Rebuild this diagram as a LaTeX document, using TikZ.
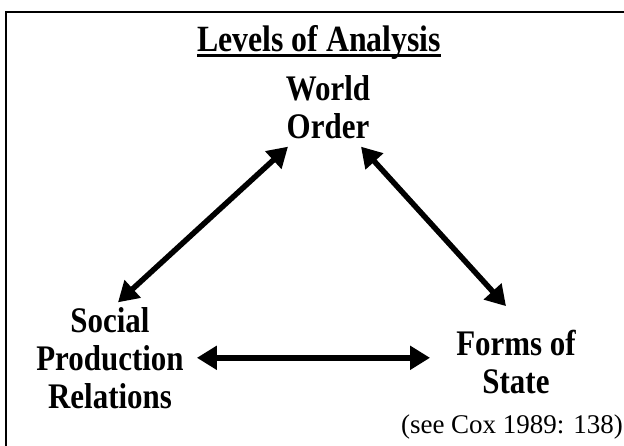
\documentclass[tikz,border=0pt]{standalone}
\usepackage{fontspec}
\setmainfont{Liberation Serif}
\newfontfamily\lvlfont{Liberation Serif}[FakeStretch=0.86]
\usetikzlibrary{arrows.meta}
\tikzset{
  lvl/.style={font=\lvlfont\bfseries\fontsize{36}{38}\selectfont, align=center, inner sep=0pt},
  twoway/.style={line width=5.5pt, {Triangle[length=20pt,width=23pt]}-{Triangle[length=20pt,width=23pt]}},
}
\begin{document}
\begin{tikzpicture}[x=1pt, y=-1pt]
\useasboundingbox (0,0) rectangle (624,446);
\draw[line width=2pt] (6,446) -- (6,12) -- (624,12);
\node[lvl, font=\lvlfont\bfseries\fontsize{37}{40}\selectfont, anchor=base] (title) at (319,52) {Levels of Analysis};
\draw[line width=3.5pt] ([yshift=-3.5pt]title.base west) -- ([yshift=-3.5pt]title.base east);
\node[lvl] (world) at (328,106.8) {World\\Order};
\node[lvl] (social) at (110,357.8) {Social\\Production\\Relations};
\node[lvl] (forms) at (516,361.8) {Forms of\\State};
\node[inner sep=0pt, anchor=base, font=\fontsize{27}{32}\selectfont] (cite) at (512,433) {(see Cox 1989: 138)};
\draw[twoway] ([xshift=-40pt,yshift=-8pt]world.south) -- ([xshift=8pt,yshift=4.6pt]social.north);
\draw[twoway] ([xshift=33pt,yshift=-8pt]world.south) -- ([xshift=-10pt,yshift=23.6pt]forms.north);
\draw[twoway, shorten <=13pt, shorten >=26pt] (social.east) -- (social.east -| forms.west);
\end{tikzpicture}
\end{document}
